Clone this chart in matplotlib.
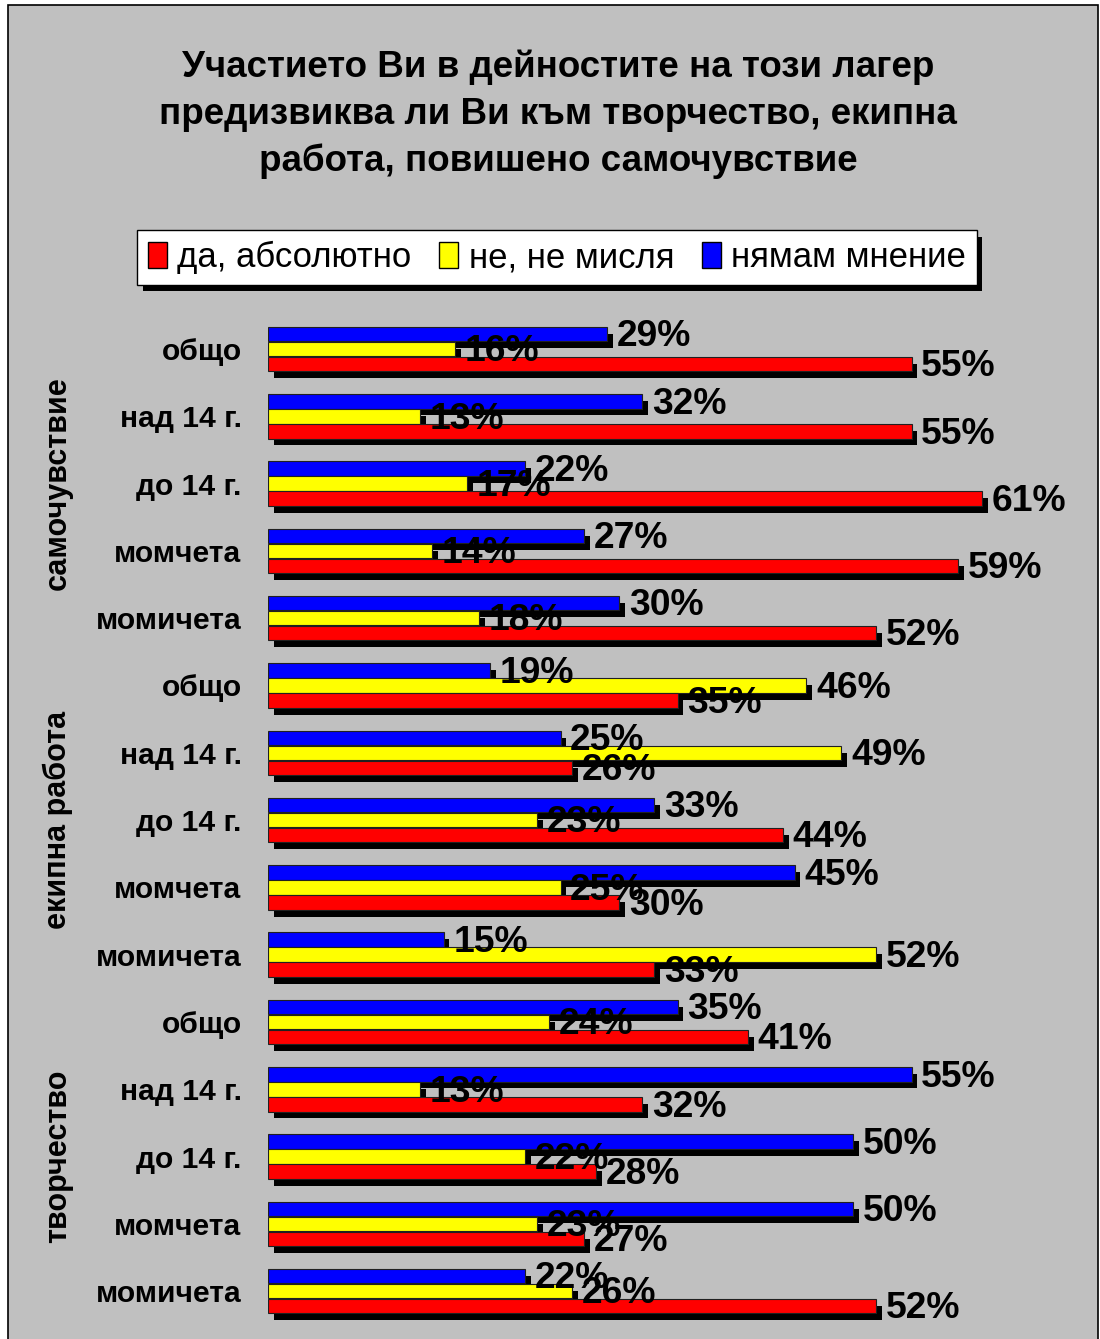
import matplotlib
matplotlib.use("Agg")
import matplotlib.pyplot as plt
import matplotlib.patheffects as pe
from matplotlib.patches import Patch, Rectangle
import numpy as np

plt.rcParams['font.family'] = ['Liberation Sans', 'DejaVu Sans']

title_lines = ["Участието Ви в дейностите на този лагер",
               "предизвиква ли Ви към творчество, екипна",
               "работа, повишено самочувствие"]

series_names = ["да, абсолютно", "не, не мисля", "нямам мнение"]
colors = ["#FF0000", "#FFFF00", "#0000FF"]

groups = ["самочувствие", "екипна работа", "творчество"]
subgroups = ["общо", "над 14 г.", "до 14 г.", "момчета", "момичета"]
categories = subgroups * 3

# values in %, top-to-bottom order of the categories
yes_abs = [55, 55, 61, 59, 52, 35, 26, 44, 30, 33, 41, 32, 28, 27, 52]
no_not = [16, 13, 17, 14, 18, 46, 49, 23, 25, 52, 24, 13, 22, 23, 26]
no_opinion = [29, 32, 22, 27, 30, 19, 25, 33, 45, 15, 35, 55, 50, 50, 22]

W, H = 1100, 1339
fig = plt.figure(figsize=(W / 100, H / 100), dpi=100)
fig.patch.set_facecolor("white")
fig.add_artist(Rectangle((8 / W, -0.01), (1098 - 8) / W, 1 - 5 / H + 0.01,
                         transform=fig.transFigure, facecolor="#C0C0C0",
                         edgecolor="black", linewidth=1.2, zorder=0))

# plot area
left_px, ppu = 268, 11.7
y0_px, step_px = 349, 67.3
top_px = y0_px - step_px / 2
bot_px = y0_px + step_px * 14.5
ax = fig.add_axes([left_px / W, 1 - bot_px / H, (W - left_px) / W, (bot_px - top_px) / H])
ax.set_facecolor("none")
ax.set_xlim(0, (W - left_px) / ppu)
ax.set_ylim(14.5, -0.5)
for s in ax.spines.values():
    s.set_visible(False)
ax.set_xticks([])

y = np.arange(len(categories))
off = 0.223
hgt = 0.215
shadow = [pe.SimplePatchShadow(offset=(4.3, -5), shadow_rgbFace="black", alpha=1), pe.Normal()]
for vals, dy, col in [(no_opinion, -off, colors[2]), (no_not, 0, colors[1]), (yes_abs, off, colors[0])]:
    bars = ax.barh(y + dy, vals, height=hgt, color=col, edgecolor="#202020", linewidth=0.8)
    for b in bars:
        b.set_path_effects(shadow)

for vals, dy in [(no_opinion, -off), (no_not, 0), (yes_abs, off)]:
    for yi, v in zip(y, vals):
        ax.annotate(f"{v}%", (v, yi + dy), xytext=(7, -2), textcoords="offset points",
                    ha="left", va="center", fontsize=26.8, fontweight="bold", zorder=5,
                    annotation_clip=False)

ax.set_yticks(y)
ax.set_yticklabels(categories, fontsize=21.6, fontweight="bold")
ax.tick_params(axis="y", length=0, pad=19)

for gi, g in enumerate(groups):
    yc = y0_px + step_px * (gi * 5 + 2)
    fig.text(58 / W, 1 - yc / H, g, rotation=90, ha="center", va="center",
             fontsize=22, fontweight="bold")

for i, line in enumerate(title_lines):
    fig.text(558 / W, 1 - (67 + 47 * i) / H, line, ha="center", va="center",
             fontsize=26.5, fontweight="bold")

handles = [Patch(facecolor=c, edgecolor="black", linewidth=1) for c in colors]
leg = fig.legend(handles, series_names, loc="center", ncol=3,
                 bbox_to_anchor=(557 / W, 1 - 257.5 / H), fontsize=25,
                 frameon=True, fancybox=False, handlelength=0.55, handleheight=0.8,
                 handletextpad=0.3, columnspacing=0.8, borderpad=0.3)
frame = leg.get_frame()
frame.set_facecolor("white")
frame.set_edgecolor("black")
frame.set_linewidth(1)
frame.set_alpha(1)
frame.set_path_effects([pe.SimplePatchShadow(offset=(4, -5), shadow_rgbFace="black", alpha=1), pe.Normal()])

fig.savefig("out.png", dpi=100)
